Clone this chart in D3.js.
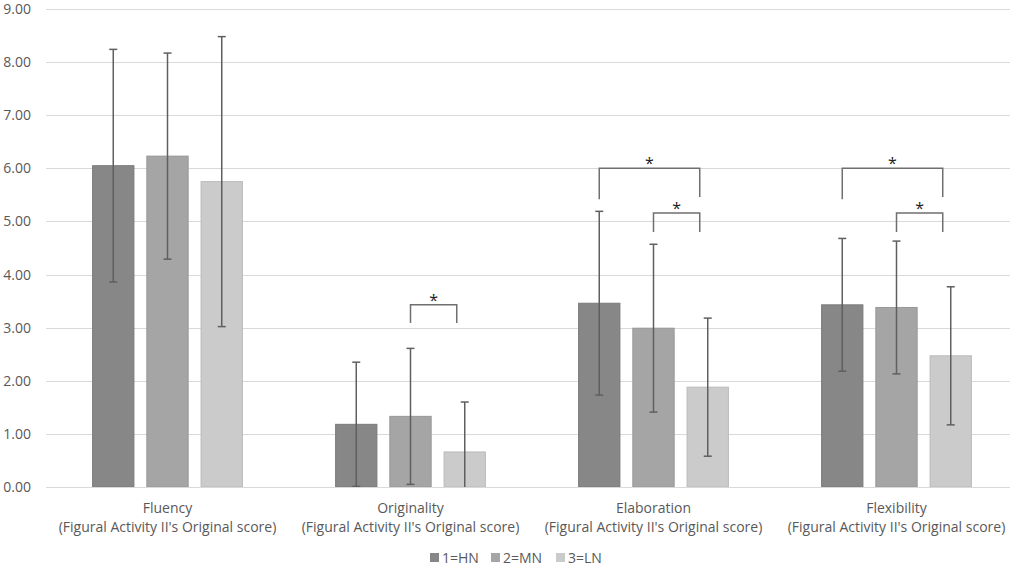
<!DOCTYPE html>
<html><head><meta charset="utf-8">
<script src="https://cdn.jsdelivr.net/npm/d3@7"></script>
<style>body{margin:0;background:#fff;}svg{display:block;font-family:"Open Sans","Liberation Sans",sans-serif;}</style>
</head><body><svg id="c" width="1021" height="567"></svg>
<script>
const categories = ["Fluency", "Originality", "Elaboration", "Flexibility"];
const subtitle = "(Figural Activity II's Original score)";
const groups = ["1=HN", "2=MN", "3=LN"];
const colors = ["#878787", "#a5a5a5", "#cbcbcb"];
const means = {
  "1=HN": [6.05, 1.18, 3.46, 3.43],
  "2=MN": [6.23, 1.33, 2.99, 3.38],
  "3=LN": [5.75, 0.66, 1.88, 2.47]
};
const sds = {
  "1=HN": [2.19, 1.17, 1.73, 1.25],
  "2=MN": [1.94, 1.28, 1.58, 1.25],
  "3=LN": [2.73, 0.94, 1.30, 1.30]
};
const yTicks = [0,1,2,3,4,5,6,7,8,9];
// significance brackets: category, from group, to group, top value, leg-left bottom, leg-right bottom
const brackets = [
  {cat:"Originality", from:"2=MN", to:"3=LN", top:3.43, bl:3.09, br:3.09},
  {cat:"Elaboration", from:"1=HN", to:"3=LN", top:6.0, bl:5.42, br:5.46},
  {cat:"Elaboration", from:"2=MN", to:"3=LN", top:5.16, bl:4.80, br:4.80},
  {cat:"Flexibility", from:"1=HN", to:"3=LN", top:6.0, bl:5.42, br:5.46},
  {cat:"Flexibility", from:"2=MN", to:"3=LN", top:5.16, bl:4.80, br:4.80}
];

const svg = d3.select("#c");
const W = 1021, H = 567;
const m = {l:46, t:9, b:80};
const gridRight = 1010;
const x0 = d3.scaleBand().domain(categories).range([m.l, m.l + 4 * 243]).paddingInner(0).paddingOuter(0);
const x1 = d3.scaleBand().domain(groups).range([0, x0.bandwidth()]).paddingInner(0.22).paddingOuter(0.85);
const y = d3.scaleLinear().domain([0, 9]).range([H - m.b, m.t]);
const FF = '"Open Sans","Liberation Sans",sans-serif';

// gridlines
svg.append("g").selectAll("line").data(yTicks).join("line")
  .attr("x1", m.l).attr("x2", gridRight)
  .attr("y1", d => Math.round(y(d)) + 0.5).attr("y2", d => Math.round(y(d)) + 0.5)
  .attr("stroke", "#d9d9d9").attr("stroke-width", 1);

// y labels
const ya = svg.append("g").attr("transform", `translate(${m.l - 12},0)`)
  .call(d3.axisLeft(y).tickValues(yTicks).tickFormat(d3.format(".2f")).tickSize(0));
ya.select(".domain").remove();
ya.selectAll("text").attr("fill", "#595959").attr("font-size", 14).attr("font-family", FF);

// bars
const gCat = svg.append("g").selectAll("g").data(categories).join("g")
  .attr("transform", d => `translate(${x0(d)},0)`);
gCat.each(function(cat, ci) {
  const g = d3.select(this);
  groups.forEach((grp, gi) => {
    const v = means[grp][ci];
    g.append("rect").attr("x", x1(grp) + 0.5).attr("y", y(v))
      .attr("width", x1.bandwidth() - 1).attr("height", y(0) - y(v))
      .attr("fill", colors[gi]).attr("stroke", d3.color(colors[gi]).darker(0.25)).attr("stroke-width", 1);
  });
  groups.forEach((grp, gi) => {
    const v = means[grp][ci], s = sds[grp][ci];
    const cx = x1(grp) + x1.bandwidth() / 2;
    const lo = Math.max(0, v - s), hi = v + s;
    g.append("line").attr("x1", cx).attr("x2", cx).attr("y1", y(hi)).attr("y2", y(lo))
      .attr("stroke", "#5f5f5f").attr("stroke-width", 1.5);
    g.append("line").attr("x1", cx - 4).attr("x2", cx + 4).attr("y1", y(hi)).attr("y2", y(hi))
      .attr("stroke", "#5f5f5f").attr("stroke-width", 1.5);
    if (v - s > 0) {
      g.append("line").attr("x1", cx - 4).attr("x2", cx + 4).attr("y1", y(lo)).attr("y2", y(lo))
        .attr("stroke", "#5f5f5f").attr("stroke-width", 1.5);
    }
  });
});

// baseline
svg.append("line").attr("x1", m.l).attr("x2", gridRight)
  .attr("y1", Math.round(y(0)) + 0.5).attr("y2", Math.round(y(0)) + 0.5)
  .attr("stroke", "#d9d9d9").attr("stroke-width", 1);

// brackets (right leg sits slightly left of the LN bar centre, as drawn in the source)
const bg = svg.append("g");
const rightInset = 8;
brackets.forEach(b => {
  const xa = x0(b.cat) + x1(b.from) + x1.bandwidth() / 2;
  const xb = x0(b.cat) + x1(b.to) + x1.bandwidth() / 2 - rightInset;
  bg.append("path")
    .attr("d", `M${xa},${y(b.bl)}V${y(b.top)}H${xb}V${y(b.br)}`)
    .attr("fill", "none").attr("stroke", "#6f6f6f").attr("stroke-width", 1.5);
  bg.append("text").attr("x", (xa + xb) / 2).attr("y", y(b.top) + 1)
    .attr("text-anchor", "middle").attr("font-size", 16)
    .attr("fill", "#222").attr("font-family", FF).text("*");
});

// category labels
const lab = svg.append("g").selectAll("text").data(categories).join("text")
  .attr("x", d => x0(d) + x0.bandwidth() / 2).attr("text-anchor", "middle")
  .attr("fill", "#595959").attr("font-size", 14).attr("font-family", FF);
lab.append("tspan").attr("x", d => x0(d) + x0.bandwidth() / 2).attr("y", 513).text(d => d);
lab.append("tspan").attr("x", d => x0(d) + x0.bandwidth() / 2).attr("y", 532).text(subtitle);

// legend
const legX = [430, 491, 556];
const leg = svg.append("g").selectAll("g").data(groups).join("g")
  .attr("transform", (d, i) => `translate(${legX[i]},558)`);
leg.append("rect").attr("x", 0).attr("y", -5).attr("width", 9).attr("height", 9)
  .attr("fill", (d, i) => colors[i]);
leg.append("text").attr("x", 12).attr("y", 5).attr("fill", "#595959").attr("font-size", 14).attr("font-family", FF).text(d => d);
</script></body></html>
